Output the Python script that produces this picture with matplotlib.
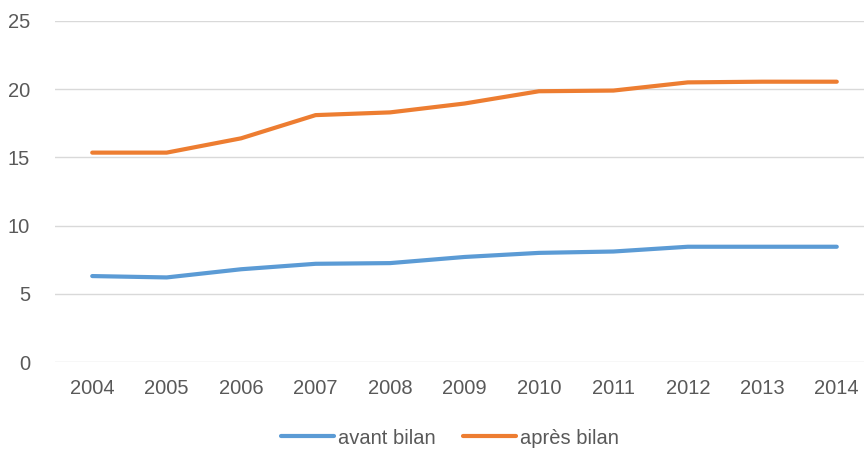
import numpy as np
import matplotlib.pyplot as plt

years = ['2004', '2005', '2006', '2007', '2008', '2009', '2010', '2011', '2012', '2013', '2014']
avant = [6.3, 6.2, 6.8, 7.2, 7.25, 7.7, 8.0, 8.1, 8.45, 8.45, 8.45]
apres = [15.35, 15.35, 16.4, 18.1, 18.3, 18.95, 19.85, 19.9, 20.5, 20.55, 20.55]

plt.rcParams['font.family'] = ['Liberation Sans', 'DejaVu Sans']

fig = plt.figure(figsize=(8.64, 4.51), dpi=100)
ax = fig.add_axes([55 / 864, 1 - 362 / 451, 819 / 864, 341 / 451])

x = np.arange(len(years))
ax.plot(x, avant, color='#5b9bd5', lw=3, solid_capstyle='round', label='avant bilan')
ax.plot(x, apres, color='#ed7d31', lw=3, solid_capstyle='round', label='après bilan')

ax.set_xlim(-0.5, len(years) - 0.5)
ax.set_ylim(0, 25)
ax.set_yticks(np.arange(0, 26, 5))
ax.set_xticks(x)
ax.set_xticklabels(years)
ax.grid(axis='y', color='#d9d9d9', lw=1)
ax.set_axisbelow(True)
for s in ax.spines.values():
    s.set_visible(False)
ax.tick_params(length=0, labelsize=14.5, colors='#595959')
ax.tick_params(axis='y', pad=18)
ax.tick_params(axis='x', pad=12)

ax.legend(loc='center', bbox_to_anchor=(450 / 864, 1 - 438 / 451),
          bbox_transform=fig.transFigure, ncol=2, frameon=False,
          fontsize=14.5, labelcolor='#595959', handlelength=2.6,
          handletextpad=0.2, columnspacing=1.4)

fig.savefig('out.png', dpi=100)
